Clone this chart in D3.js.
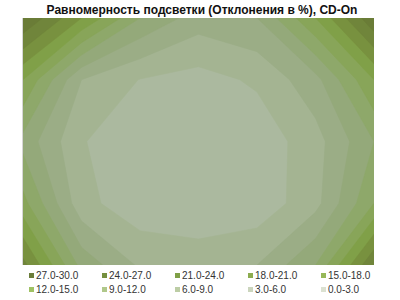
<!DOCTYPE html>
<html>
<head>
<meta charset="utf-8">
<script src="https://cdn.jsdelivr.net/npm/d3@7"></script>
<style>
  body { margin: 0; background: #fff; }
  text { font-family: "Liberation Sans", Arial, sans-serif; }
</style>
</head>
<body>
<div id="chart"></div>
<script>
// measured deviation (%) at a 7 x 5 grid of screen points, top row first
var row1 = [30, 21, 12, 7.5, 9, 18, 29.5];
var row2 = [18, 6, 2.9, 1.8, 3.5, 8, 18];
var row3 = [11, 3.2, 1, 0.2, 1, 4.8, 12];
var row4 = [16, 4, 1, 0.8, 1, 5, 15];
var row5 = [25, 11, 5.5, 4.6, 6, 12, 27];

var bandEdges = [0, 3, 6, 9, 12, 15, 18, 21, 24, 27, 30];
var bandLabels = ["0.0-3.0", "3.0-6.0", "6.0-9.0", "9.0-12.0", "12.0-15.0",
  "15.0-18.0", "18.0-21.0", "21.0-24.0", "24.0-27.0", "27.0-30.0"];

// surface colours (shaded) and legend swatch colours, low -> high
var plotColors = ["#abb99f", "#a4b492", "#9bad86", "#94a97a", "#8ea86a",
  "#88a559", "#80a048", "#78913f", "#70853b", "#6a7c37"];
var legendColors = ["#dbe1d1", "#cbd5bd", "#bccda5", "#b0c88a", "#9fc263",
  "#97b858", "#8cac4f", "#80a047", "#76903f", "#6b7d3a"];

var svgWidth = 400, svgHeight = 300;
var plot = { left: 23, top: 18, right: 374, bottom: 265 };

var svg = d3.select("#chart").append("svg")
  .attr("width", svgWidth)
  .attr("height", svgHeight);

var grid = [row1, row2, row3, row4, row5];
var nx = row1.length, ny = grid.length;
var values = grid.flat();

// contour space: value i sits at i + 0.5
var x = d3.scaleLinear().domain([0.5, nx - 0.5]).range([plot.left, plot.right]);
var y = d3.scaleLinear().domain([0.5, ny - 0.5]).range([plot.top, plot.bottom]);

var path = d3.geoPath(d3.geoTransform({
  point: function(px, py) { this.stream.point(x(px), y(py)); }
}));

svg.append("clipPath").attr("id", "plotclip")
  .append("rect")
  .attr("x", plot.left).attr("y", plot.top)
  .attr("width", plot.right - plot.left)
  .attr("height", plot.bottom - plot.top);

var surface = svg.append("g").attr("clip-path", "url(#plotclip)");

surface.append("rect")
  .attr("x", plot.left).attr("y", plot.top)
  .attr("width", plot.right - plot.left)
  .attr("height", plot.bottom - plot.top)
  .attr("fill", plotColors[0]);

var contours = d3.contours()
  .size([nx, ny])
  .thresholds(bandEdges.slice(1, -1))(values);

surface.selectAll("path.band")
  .data(contours)
  .enter()
  .append("path")
  .attr("class", "band")
  .attr("d", path)
  .attr("fill", function(d, i) { return plotColors[i + 1]; })
  .attr("stroke", function(d, i) { return plotColors[i + 1]; })
  .attr("stroke-width", 0.5);

// plot border
svg.append("line")
  .attr("x1", plot.left - 0.5).attr("x2", plot.left - 0.5)
  .attr("y1", plot.top).attr("y2", plot.bottom)
  .attr("stroke", "#d6d6d6");

// title
svg.append("text")
  .attr("x", 202)
  .attr("y", 14)
  .attr("text-anchor", "middle")
  .attr("font-size", "12px")
  .attr("font-weight", "bold")
  .attr("fill", "#111")
  .text("Равномерность подсветки (Отклонения в %), CD-On");

// legend: two rows, highest band first
var order = d3.range(bandLabels.length).reverse();
var legend = svg.append("g");
var item = legend.selectAll("g")
  .data(order)
  .enter()
  .append("g")
  .attr("transform", function(d, i) {
    return "translate(" + (29 + (i % 5) * 73) + "," + (276 + Math.floor(i / 5) * 14) + ")";
  });

item.append("rect")
  .attr("x", 0).attr("y", -3)
  .attr("width", 5).attr("height", 5)
  .attr("fill", function(d) { return legendColors[d]; });

item.append("text")
  .attr("x", 7)
  .attr("y", 3)
  .attr("font-size", "10px")
  .attr("fill", "#333")
  .text(function(d) { return bandLabels[d]; });
</script>
</body>
</html>
